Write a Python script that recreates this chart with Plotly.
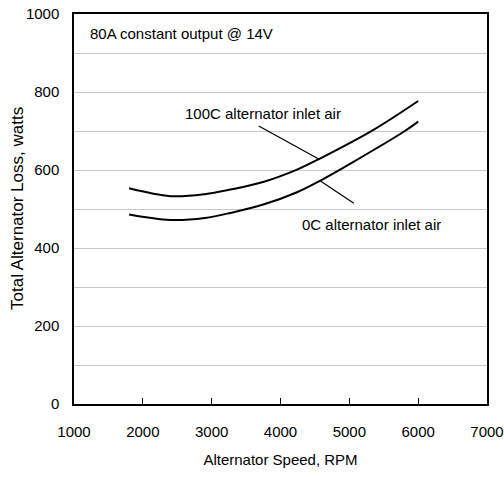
import plotly.graph_objects as go

# Data
rpm_100c = [1800, 2400, 2900, 3275, 3760, 4240, 4580, 5350, 6000]
loss_100c = [553, 533, 538, 550, 570, 601, 630, 703, 777]
rpm_0c = [1800, 2400, 2900, 3275, 3760, 4240, 4580, 5060, 5790, 6000]
loss_0c = [486, 472, 477, 490, 512, 543, 573, 621, 698, 724]

x_ticks = [1000, 2000, 3000, 4000, 5000, 6000, 7000]
y_ticks = [0, 200, 400, 600, 800, 1000]

sans = "Liberation Sans, Arial, sans-serif"

fig = go.Figure()
fig.add_trace(go.Scatter(x=rpm_100c, y=loss_100c, mode="lines",
                         line=dict(color="black", width=2, shape="spline", smoothing=1.0),
                         name="100C", showlegend=False, hoverinfo="skip"))
fig.add_trace(go.Scatter(x=rpm_0c, y=loss_0c, mode="lines",
                         line=dict(color="black", width=2, shape="spline", smoothing=1.0),
                         name="0C", showlegend=False, hoverinfo="skip"))

# Text labels
fig.add_annotation(x=1210, y=951, text="80A constant output @ 14V", showarrow=False,
                   xanchor="left", yanchor="middle", font=dict(size=15, color="black", family=sans))
fig.add_annotation(x=3746, y=746, text="100C alternator inlet air", showarrow=False,
                   xanchor="center", yanchor="middle", font=dict(size=15, color="black", family=sans))
fig.add_annotation(x=5316, y=459, text="0C alternator inlet air", showarrow=False,
                   xanchor="center", yanchor="middle", font=dict(size=15, color="black", family=sans))

# Y-axis title placed as a rotated text in paper coordinates
fig.add_annotation(x=-0.138, y=0.5, xref="paper", yref="paper", text="Total Alternator Loss, watts",
                   showarrow=False, textangle=-90, xanchor="center", yanchor="middle",
                   font=dict(size=17, color="black", family=sans))

# Leader lines (tip on curve, tail near label)
fig.add_annotation(x=4555, y=628, ax=3662, ay=715, axref="x", ayref="y", xref="x", yref="y",
                   text="", showarrow=True, arrowhead=0, arrowwidth=1.2, arrowcolor="black")
fig.add_annotation(x=4580, y=572, ax=5087, ay=512, axref="x", ayref="y", xref="x", yref="y",
                   text="", showarrow=True, arrowhead=0, arrowwidth=1.2, arrowcolor="black")

fig.update_layout(
    width=504, height=477,
    margin=dict(l=74, r=17, t=14, b=73),
    paper_bgcolor="white", plot_bgcolor="white",
    font=dict(family=sans, size=15, color="black"),
)
fig.update_xaxes(range=[1000, 7000], tickvals=x_ticks, ticks="inside", ticklen=6, tickcolor="black",
                 showline=True, linecolor="black", linewidth=1.5, mirror=True, showgrid=False,
                 zeroline=False, ticklabelstandoff=13, automargin=False, ticklabeloverflow="allow",
                 tickfont=dict(family=sans, size=15),
                 title=dict(text="Alternator Speed, RPM", standoff=16, font=dict(family=sans, size=15)))
fig.update_yaxes(range=[0, 1000], tickvals=y_ticks, ticks="", showline=True, linecolor="black",
                 linewidth=1.5, mirror=True, showgrid=True, gridcolor="#c8c8c8", gridwidth=1,
                 minor=dict(dtick=100, tick0=0, showgrid=True, gridcolor="#c8c8c8", gridwidth=1),
                 zeroline=False, ticklabelstandoff=10, automargin=False, ticklabeloverflow="allow",
                 tickfont=dict(family=sans, size=15))

# Remove the default 8px page margin so the figure fills the 504x477 window exactly.
fig.write_html("out.html", config={"displayModeBar": False},
               post_script="document.body.style.margin='0';")
